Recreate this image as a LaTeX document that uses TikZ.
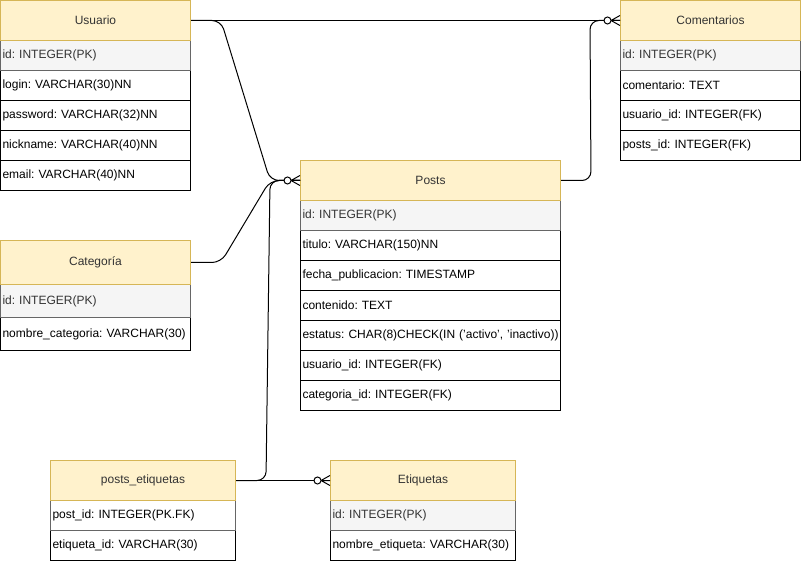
\documentclass[tikz,border=0pt]{standalone}
\usepackage{fontspec}
\setmainfont{Liberation Sans}
\usetikzlibrary{calc}
\definecolor{hdrfill}{HTML}{FFF2CC}
\definecolor{hdrdraw}{HTML}{D6B656}
\definecolor{pkfill}{HTML}{F5F5F5}
\definecolor{pkdraw}{HTML}{666666}
\definecolor{pktext}{HTML}{333333}
\frenchspacing
\begin{document}
\begin{tikzpicture}[x=1pt,y=-1pt,line width=1pt,
  font=\fontsize{12}{14}\selectfont,
  cell/.style={anchor=north west, inner xsep=2pt, inner ysep=0pt, minimum height=30pt},
  hdr/.style={cell, draw=hdrdraw, fill=hdrfill, text=pktext, align=center, minimum height=40pt},
  pkrow/.style={cell, draw=pkdraw, fill=pkfill, text=pktext, align=left},
  fkrow/.style={cell, draw=pkdraw, fill=white, text=black, align=left},
  row/.style={cell, draw=black, fill=white, text=black, align=left},
  link/.style={draw=black, line width=1pt, rounded corners=9pt},
  zmany/.pic={
    \draw[line width=1pt] (-9,0) -- (0,-5) (-9,0) -- (0,5) (-9,0) -- (0,0);
    \draw[line width=1pt, fill=white] (-12.5,0) circle (3.5);
  }]
\fill[white] (0,0) rectangle (801,561);
\useasboundingbox (0,0) rectangle (801,561);

% Usuario
\begin{scope}[every node/.append style={text width=186pt}]
\node[row]   (usuario-5) at (0,160) {email: VARCHAR(40)NN};
\node[row]   (usuario-4) at (0,130) {nickname: VARCHAR(40)NN};
\node[row]   (usuario-3) at (0,100) {password: VARCHAR(32)NN};
\node[row]   (usuario-2) at (0,70)  {login: VARCHAR(30)NN};
\node[pkrow] (usuario-1) at (0,40)  {id: INTEGER(PK)};
\node[hdr]   (usuario)   at (0,0)   {Usuario};
\end{scope}

% Comentarios
\begin{scope}[every node/.append style={text width=176pt}]
\node[row]   (comentarios-4) at (620,130) {posts\_id: INTEGER(FK)};
\node[row]   (comentarios-3) at (620,100) {usuario\_id: INTEGER(FK)};
\node[row]   (comentarios-2) at (620,70)  {comentario: TEXT};
\node[pkrow] (comentarios-1) at (620,40)  {id: INTEGER(PK)};
\node[hdr]   (comentarios)   at (620,0)   {Comentarios};
\end{scope}

% Posts
\begin{scope}[every node/.append style={text width=256pt}]
\node[row]   (posts-7) at (300,380) {categoria\_id: INTEGER(FK)};
\node[row]   (posts-6) at (300,350) {usuario\_id: INTEGER(FK)};
\node[row]   (posts-5) at (300,320) {\mbox{estatus: CHAR(8)CHECK(IN ('activo', 'inactivo))}};
\node[row]   (posts-4) at (300,290) {contenido: TEXT};
\node[row]   (posts-3) at (300,260) {fecha\_publicacion: TIMESTAMP};
\node[row]   (posts-2) at (300,230) {titulo: VARCHAR(150)NN};
\node[pkrow] (posts-1) at (300,200) {id: INTEGER(PK)};
\node[hdr]   (posts)   at (300,160) {Posts};
\end{scope}

% Categoria
\begin{scope}[every node/.append style={text width=186pt}]
\node[row,minimum height=33pt]   (categoria-2) at (0,317) {nombre\_categoria: VARCHAR(30)};
\node[pkrow,minimum height=33pt] (categoria-1) at (0,284) {id: INTEGER(PK)};
\node[hdr,minimum height=44pt]   (categoria)   at (0,240) {Categoría};
\end{scope}

% posts_etiquetas
\begin{scope}[every node/.append style={text width=181pt}]
\node[row]   (pe-2) at (50,530) {etiqueta\_id: VARCHAR(30)};
\node[fkrow] (pe-1) at (50,500) {post\_id: INTEGER(PK.FK)};
\node[hdr]   (pe)   at (50,460) {posts\_etiquetas};
\end{scope}

% Etiquetas
\begin{scope}[every node/.append style={text width=181pt}]
\node[row]   (etiquetas-2) at (330,530) {nombre\_etiqueta: VARCHAR(30)};
\node[pkrow] (etiquetas-1) at (330,500) {id: INTEGER(PK)};
\node[hdr]   (etiquetas)   at (330,460) {Etiquetas};
\end{scope}

% Relationships
\draw[link] (usuario.east) -- (comentarios.west);
\draw[link] (usuario.east) -- ++(30,0) -- ($(posts.west)+(-30,0)$) -- (posts.west);
\draw[link] (categoria.east) -- ++(30,0) -- ($(posts.west)+(-30,0)$) -- (posts.west);
\draw[link] (pe.east) -- ++(30,0) -- ($(posts.west)+(-30,0)$) -- (posts.west);
\draw[link] (posts.east) -- ++(30,0) -- ($(comentarios.west)+(-30,0)$) -- (comentarios.west);
\draw[link] (pe.east) -- (etiquetas.west);

% Zero-or-many ends
\pic at (comentarios.west) {zmany};
\pic at (posts.west) {zmany};
\pic at (etiquetas.west) {zmany};
\end{tikzpicture}
\end{document}
